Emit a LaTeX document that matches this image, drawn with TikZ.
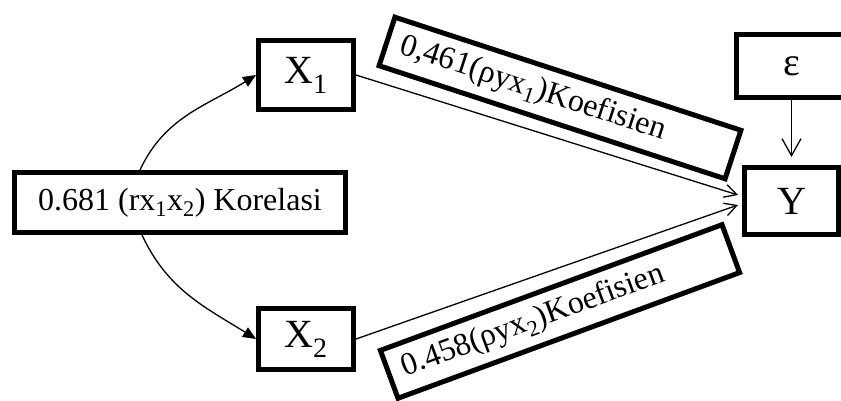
\documentclass[tikz,border=0pt]{standalone}
\usepackage{fontspec}
\setmainfont{Liberation Serif}
\usetikzlibrary{arrows.meta}
\begin{document}
\begin{tikzpicture}[x=1pt,y=1pt,
  box/.style={draw, line width=5pt, inner sep=0pt, fill=white},
  bigtext/.style={font=\fontsize{40}{48}\selectfont},
  midtext/.style={font=\fontsize{32}{38}\selectfont},
  coefbox/.style={box, midtext, text width=334pt, align=left, inner xsep=15pt, minimum height=51pt},
  conn/.style={line width=1.3pt},
  corr/.style={conn, -{Triangle[length=13pt,width=11pt]}},
  path/.style={conn, -{Straight Barb[length=12pt,width=13pt,line width=1.3pt]}},
  err/.style={conn, -{Straight Barb[length=17pt,width=19pt,line width=1.3pt]}}]
\useasboundingbox (0,0) rectangle (841,401);
\clip (0,0) rectangle (841,401);

\node[box, bigtext, minimum width=95pt, minimum height=69pt] (X1) at (306,326) {X\textsubscript{1}};
\node[box, midtext, minimum width=331pt, minimum height=60pt] (K) at (180,198.5) {0.681 (rx\textsubscript{1}x\textsubscript{2}) Korelasi};
\node[box, bigtext, minimum width=95pt, minimum height=61pt] (X2) at (306,62) {X\textsubscript{2}};
\node[box, bigtext, minimum width=110pt, minimum height=63pt] (E) at (791.5,335) {ε};
\node[box, bigtext, minimum width=94pt, minimum height=67pt] (Y) at (791.5,200) {Y};

\node[coefbox, rotate=-18.1] (L1) at (560,303) {0,461(ρyx\textsubscript{1})Koefisien};
\node[coefbox, rotate=20.2] (L2) at (560,89.5) {0.458(ρyx\textsubscript{2})Koefisien};

\coordinate (t1) at (738,206);
\coordinate (t2) at (738,196);
\coordinate (te) at (791.5,244);

\draw[corr] (K.north -| 140,0) to[out=65,in=212] (X1.west);
\draw[corr] (K.south -| 142,0) to[out=-65,in=148] (X2.west);
\draw[path] (X1.east) -- (t1);
\draw[path] (X2.east) -- (t2);
\draw[err] (E.south) -- (te);
\end{tikzpicture}
\end{document}
